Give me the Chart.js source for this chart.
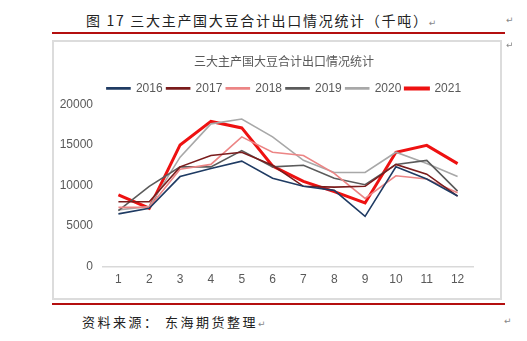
<!DOCTYPE html>
<html>
<head>
<meta charset="utf-8">
<script src="https://cdn.jsdelivr.net/npm/chart.js@4"></script>
<style>
  body { margin: 0; background: #fff; width: 527px; height: 341px; position: relative; overflow: hidden; font-family: "Noto Sans CJK SC", sans-serif; }
  .cap { position: absolute; left: 86px; top: 10px; font-size: 14px; letter-spacing: 1.7px; color: #222; white-space: nowrap; }
  .rule { position: absolute; left: 52px; width: 453px; height: 2px; background: #b40f0f; }
  .box { position: absolute; left: 52px; top: 40px; width: 446px; height: 256px; border: 2px solid #dcdcdc; }
  #c { position: absolute; left: 54px; top: 42px; }
  .src { position: absolute; left: 82px; top: 312px; font-size: 13px; letter-spacing: 2.5px; color: #222; white-space: nowrap; }
  .pm { font-family: "DejaVu Sans", sans-serif; font-size: 9px; color: #888; letter-spacing: 0; }
  .pmr { position: absolute; font-family: "DejaVu Sans", sans-serif; font-size: 9px; color: #888; }
</style>
</head>
<body>
<div class="cap">图 17 三大主产国大豆合计出口情况统计（千吨）<span class="pm">↵</span></div>
<span class="pmr" style="left:506px;top:15px">↵</span>
<div class="rule" style="top:32px"></div>
<div class="box"></div>
<canvas id="c" width="456" height="256"></canvas>
<span class="pmr" style="left:506px;top:40px">↵</span>
<div class="rule" style="top:303px"></div>
<div class="src">资料来源：&nbsp;东海期货整理<span class="pm">↵</span></div>
<span class="pmr" style="left:504px;top:316px">↵</span>
<script>
// 月份
const months = ["1", "2", "3", "4", "5", "6", "7", "8", "9", "10", "11", "12"];
// 各年度出口量（千吨）
const y2016 = [6500, 7200, 11100, 12100, 13000, 10900, 9900, 9400, 6200, 12300, 10800, 8700];
const y2017 = [8000, 8000, 12300, 13700, 14100, 12500, 9900, 9800, 9900, 12600, 11400, 8700];
const y2018 = [7300, 7300, 12000, 12600, 16000, 14100, 13700, 11500, 8400, 11200, 10800, 9100];
const y2019 = [6900, 9900, 12300, 12300, 14300, 12300, 12500, 10900, 10100, 12600, 13100, 9300];
const y2020 = [7000, 7400, 13500, 17600, 18200, 16000, 13100, 11600, 11600, 14100, 12700, 11100];
const y2021 = [8850, 7200, 15000, 17900, 17100, 12400, 10500, 9250, 7850, 14100, 14950, 12700];
const yTicks = [0, 5000, 10000, 15000, 20000];

const ctx = document.getElementById('c').getContext('2d');
const mk = (label, data, color, w) => ({ label, data, borderColor: color, backgroundColor: color, borderWidth: w, pointRadius: 0, fill: false, tension: 0 });
const tickFont = { family: 'Liberation Sans', size: 12 };

new Chart(ctx, {
  type: 'line',
  data: {
    labels: months,
    datasets: [
      mk('2016', y2016, '#1f3b63', 1.6),
      mk('2017', y2017, '#7a1c1c', 1.6),
      mk('2018', y2018, '#ec8585', 1.6),
      mk('2019', y2019, '#5b5b5b', 1.6),
      mk('2020', y2020, '#a8a8a8', 1.6),
      mk('2021', y2021, '#ee1111', 3)
    ]
  },
  options: {
    responsive: false,
    animation: false,
    layout: { padding: { left: 4, right: 0, top: 4, bottom: 5 } },
    plugins: {
      title: { display: true, text: '三大主产国大豆合计出口情况统计', color: '#595959', font: { family: 'Noto Sans CJK SC', size: 12, weight: 'normal' }, padding: { top: 8, bottom: 10 } },
      legend: {
        labels: { color: '#595959', font: tickFont, boxWidth: 23, boxHeight: 1, padding: 4 }
      },
      tooltip: { enabled: false }
    },
    scales: {
      x: {
        offset: true,
        grid: { display: false, drawTicks: false },
        border: { color: '#d9d9d9', width: 1.5 },
        ticks: { color: '#595959', font: tickFont, padding: 6 }
      },
      y: {
        min: 0, max: 20000,
        afterBuildTicks: axis => { axis.ticks = yTicks.map(v => ({ value: v })); },
        afterFit: axis => { axis.width = 45; },
        grid: { display: false, drawTicks: false },
        border: { display: false },
        ticks: { color: '#595959', font: tickFont, padding: 10, callback: v => String(v) }
      },
      // 右側の空き（凡例とタイトルを右寄せにするため）
      yRight: {
        position: 'right',
        afterFit: axis => { axis.width = 37; },
        grid: { display: false },
        border: { display: false },
        ticks: { display: false }
      }
    }
  }
});
</script>
</body>
</html>
